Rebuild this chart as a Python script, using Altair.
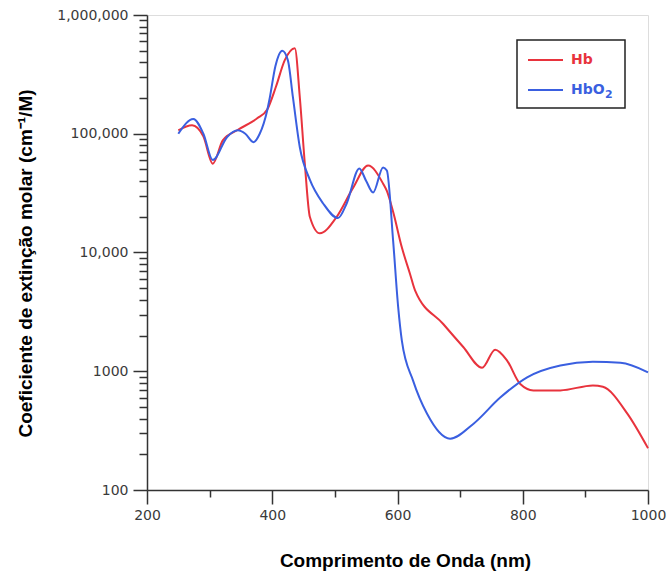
import altair as alt
import pandas as pd

# ---- data ----
hb_nm = [250, 272, 290, 305, 321, 344, 376, 392, 406, 420, 436, 444, 452, 460, 476,
         503, 529, 553, 577, 583, 593, 607, 620, 628, 673, 705, 735, 756, 775, 796,
         817, 860, 912, 928, 967, 1000]
hb_val = [107000, 118000, 95000, 56000, 88000, 107000, 135000, 160000, 250000, 417000,
          526000, 203000, 56000, 20000, 14500, 20000, 35000, 54000, 38000, 33000,
          22000, 11000, 6600, 4800, 2500, 1600, 1070, 1520, 1230, 780, 690, 690, 760,
          740, 440, 225]

hbo2_nm = [250, 274, 290, 305, 328, 345, 357, 370, 380, 392, 396, 405, 416, 425, 433,
           444, 460, 481, 505, 519, 539, 550, 561, 577, 583, 593, 601, 607, 625, 647,
           684, 721, 764, 807, 860, 912, 956, 1000]
hbo2_val = [100000, 133000, 100000, 60000, 94000, 107000, 100000, 85000, 100000, 158000,
            200000, 370000, 500000, 415000, 203000, 77000, 41000, 26000, 19500, 26000,
            51000, 40000, 32000, 52000, 49000, 12600, 3500, 1800, 830, 440, 270, 360,
            600, 890, 1120, 1200, 1180, 980]

series_names = ["Hb", "HbO\u2082"]
series_colors = ["#e8333d", "#3a5fe0"]
legend_main = ["Hb", "HbO"]
legend_sub = ["", "2"]

y_major = [100, 1000, 10000, 100000, 1000000]
y_major_labels = ["100", "1000", "10,000", "100,000", "1,000,000"]
y_minor = [m * d for d in [100, 1000, 10000, 100000] for m in range(2, 10)]

x_major = [200, 400, 600, 800, 1000]
x_major_labels = ["200", "400", "600", "800", "1000"]
x_minor = [300, 500, 700, 900]

x_title = "Comprimento de Onda (nm)"
y_title = "Coeficiente de extinção molar (cm\u207b\u00b9/M)"

# ---- build table ----
df = pd.concat([
    pd.DataFrame({"nm": hb_nm, "val": hb_val, "s": series_names[0]}),
    pd.DataFrame({"nm": hbo2_nm, "val": hbo2_val, "s": series_names[1]}),
])


def label_expr(vals, labels):
    parts = " : ".join(f"datum.value == {v} ? '{l}'" for v, l in zip(vals, labels))
    return parts + " : ''"


def major_test(vals):
    return " || ".join(f"datum.value == {v}" for v in vals)


tick_font = "DejaVu Sans"
title_font = "Liberation Sans"

x_axis = alt.Axis(
    values=sorted(x_major + x_minor),
    labelExpr=label_expr(x_major, x_major_labels),
    tickSize={"condition": {"test": major_test(x_major), "value": 14}, "value": 7},
    title=x_title, titleX=258, titleY=61, titleFont=title_font, titleFontSize=19,
    titleFontWeight="bold", titleColor="black",
    labelFont=tick_font, labelFontSize=14, labelColor="#3a3a3a", labelPadding=4,
    labelFlush=False, labelOverlap=False,
    grid=False, domainColor="#333", domainWidth=1.5, tickColor="#333", tickWidth=1.5,
)

y_axis = alt.Axis(
    values=sorted(y_major + y_minor),
    labelExpr=label_expr(y_major, y_major_labels),
    tickSize={"condition": {"test": major_test(y_major), "value": 14}, "value": 8},
    title=y_title, titleX=-122, titleY=248, titleAngle=-90, titleBaseline="middle",
    titleFont=title_font, titleFontSize=19, titleFontWeight="bold", titleColor="black",
    labelFont=tick_font, labelFontSize=14, labelColor="#3a3a3a", labelPadding=5,
    labelFlush=False, labelOverlap=False,
    grid=False, domainColor="#333", domainWidth=1.5, tickColor="#333", tickWidth=1.5,
)

lines = alt.Chart(df).mark_line(strokeWidth=2, interpolate="monotone").encode(
    x=alt.X("nm:Q", scale=alt.Scale(domain=[200, 1000], nice=False, zero=False), axis=x_axis),
    y=alt.Y("val:Q", scale=alt.Scale(type="log", domain=[100, 1000000], nice=False), axis=y_axis),
    color=alt.Color("s:N", scale=alt.Scale(domain=series_names, range=series_colors), legend=None),
    detail="s:N",
)

# ---- legend box drawn by hand ----
box = alt.Chart(pd.DataFrame({"label": series_names[:1]})).mark_rect(
    fill="white", stroke="#222", strokeWidth=1.5
).encode(x=alt.value(370), x2=alt.value(478), y=alt.value(25), y2=alt.value(93))
leg_layers = [box]
for i, (main, sub, col) in enumerate(zip(legend_main, legend_sub, series_colors)):
    yy = 45 + 30 * i
    src = pd.DataFrame({"label": [main], "sub": [sub]})
    leg_layers.append(
        alt.Chart(src).mark_rule(color=col, strokeWidth=2).encode(
            x=alt.value(381), x2=alt.value(416), y=alt.value(yy)
        )
    )
    leg_layers.append(
        alt.Chart(src).mark_text(
            color=col, font="DejaVu Sans", fontSize=14, fontWeight="bold",
            align="left", baseline="middle"
        ).encode(x=alt.value(424), y=alt.value(yy), text="label:N")
    )
    if sub:
        leg_layers.append(
            alt.Chart(src).mark_text(
                color=col, font="DejaVu Sans", fontSize=11, fontWeight="bold",
                align="left", baseline="middle"
            ).encode(x=alt.value(458), y=alt.value(yy + 5), text="sub:N")
        )

chart = alt.layer(lines, *leg_layers).properties(
    width=501, height=475,
    autosize=alt.AutoSizeParams(type="none"),
    padding={"left": 147, "top": 15, "right": 19, "bottom": 83},
).configure_view(stroke="#333", strokeWidth=1.5).configure(background="white")

chart.save("out.html", embed_options={"renderer": "svg", "actions": False})
